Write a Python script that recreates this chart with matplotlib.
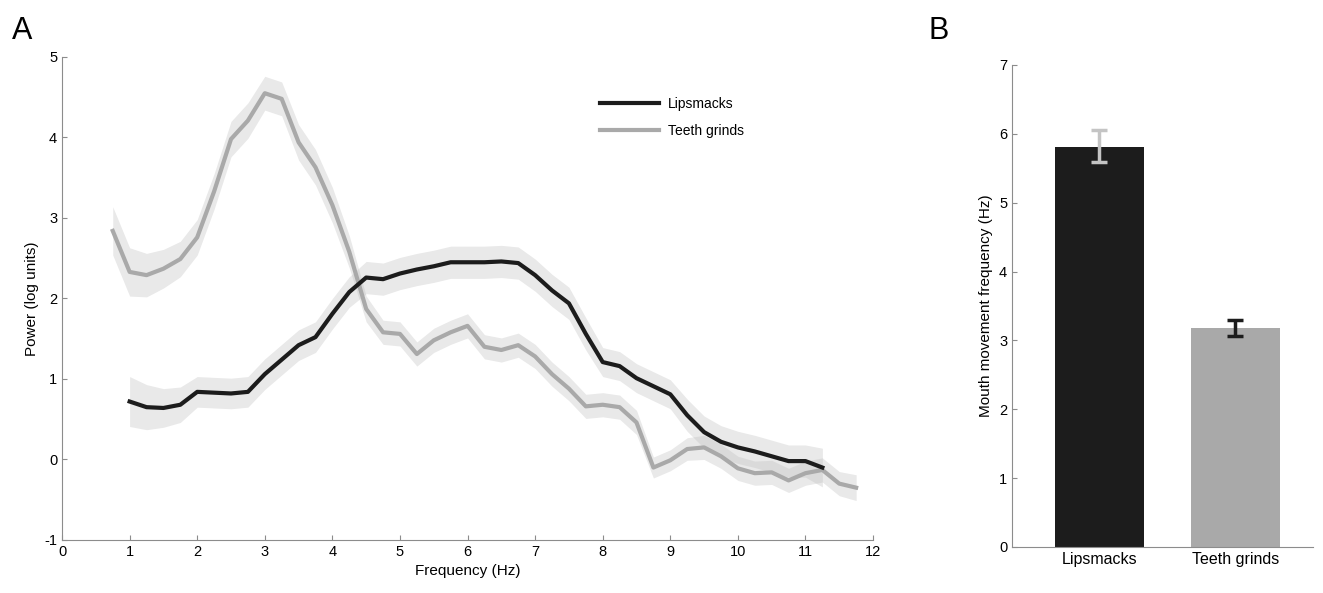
import numpy as np
import matplotlib
matplotlib.use("Agg")
import matplotlib.pyplot as plt

plt.rcParams['font.family'] = ['Liberation Sans', 'DejaVu Sans']
plt.rcParams['axes.unicode_minus'] = False

# panel A: power spectra
freq_lip = np.arange(1.0, 11.26, 0.25)
lip = [0.72, 0.65, 0.64, 0.68, 0.84, 0.83, 0.82, 0.84, 1.06, 1.24, 1.42, 1.52,
       1.81, 2.08, 2.26, 2.24, 2.31, 2.36, 2.40, 2.45, 2.45, 2.45, 2.46, 2.44,
       2.29, 2.10, 1.94, 1.56, 1.21, 1.16, 1.01, 0.91, 0.81, 0.55, 0.34, 0.22,
       0.15, 0.10, 0.04, -0.02, -0.02, -0.10]
lip_sem = [0.31, 0.28, 0.24, 0.22, 0.19, 0.19, 0.19, 0.19, 0.19, 0.19, 0.19, 0.19,
           0.19, 0.19, 0.20, 0.20, 0.20, 0.20, 0.20, 0.20, 0.20, 0.20, 0.20, 0.20,
           0.20, 0.20, 0.20, 0.20, 0.18, 0.18, 0.18, 0.18, 0.18, 0.20, 0.20, 0.20,
           0.20, 0.20, 0.20, 0.20, 0.20, 0.24]

freq_teeth = np.arange(0.75, 11.76, 0.25)
teeth = [2.84, 2.33, 2.29, 2.37, 2.49, 2.76, 3.33, 3.98, 4.21, 4.55, 4.48, 3.94,
         3.63, 3.16, 2.58, 1.87, 1.58, 1.56, 1.31, 1.48, 1.58, 1.66, 1.40, 1.36,
         1.42, 1.28, 1.06, 0.88, 0.66, 0.68, 0.65, 0.46, -0.10, -0.01, 0.13, 0.15,
         0.04, -0.11, -0.17, -0.16, -0.26, -0.17, -0.13, -0.30, -0.35]
teeth_sem = [0.30, 0.30, 0.27, 0.24, 0.22, 0.22, 0.22, 0.22, 0.22, 0.21, 0.21, 0.22,
             0.22, 0.22, 0.20, 0.16, 0.15, 0.15, 0.15, 0.15, 0.15, 0.15, 0.15, 0.15,
             0.15, 0.15, 0.15, 0.15, 0.15, 0.15, 0.15, 0.15, 0.13, 0.13, 0.14, 0.15,
             0.15, 0.15, 0.15, 0.15, 0.15, 0.15, 0.15, 0.15, 0.16]

# panel B: mean mouth movement frequency
conds = ['Lipsmacks', 'Teeth grinds']
mean_freq = [5.81, 3.18]
err_lo = [0.22, 0.11]
err_hi = [0.25, 0.12]

black = '#1c1c1c'
grey = '#a9a9a9'
spine_col = '#8c8c8c'

fig = plt.figure(figsize=(13.23, 5.93), dpi=100)

axA = fig.add_axes([0.0469, 0.0894, 0.613, 0.8145])
lip = np.array(lip); lip_sem = np.array(lip_sem)
teeth = np.array(teeth); teeth_sem = np.array(teeth_sem)
axA.fill_between(freq_teeth, teeth - teeth_sem, teeth + teeth_sem,
                 color='#c0c0c0', alpha=0.35, lw=0)
axA.fill_between(freq_lip, lip - lip_sem, lip + lip_sem,
                 color='#c0c0c0', alpha=0.35, lw=0)
axA.plot(freq_teeth, teeth, color=grey, lw=3, label='Teeth grinds', zorder=3)
axA.plot(freq_lip, lip, color=black, lw=3, label='Lipsmacks', zorder=4)
axA.set_xlim(0, 12)
axA.set_ylim(-1, 5)
axA.set_xticks(range(0, 13))
axA.set_yticks(range(-1, 6))
axA.set_xlabel('Frequency (Hz)', fontsize=11)
axA.set_ylabel('Power (log units)', fontsize=11)
h, l = axA.get_legend_handles_labels()
axA.legend(h[::-1], l[::-1], frameon=False, fontsize=10, loc='upper left',
           bbox_to_anchor=(0.663, 0.917), borderaxespad=0, borderpad=0,
           handlelength=4.3, handletextpad=0.6, labelspacing=0.95)

axB = fig.add_axes([0.765, 0.0776, 0.2275, 0.8128])
pos = [1, 2]
axB.bar(pos, mean_freq, width=0.65, color=[black, grey])
axB.errorbar(pos[0], mean_freq[0], yerr=[[err_lo[0]], [err_hi[0]]], fmt='none',
             ecolor='#c4c4c4', elinewidth=2.5, capsize=6, capthick=2.5)
axB.errorbar(pos[1], mean_freq[1], yerr=[[err_lo[1]], [err_hi[1]]], fmt='none',
             ecolor=black, elinewidth=2.5, capsize=6, capthick=2.5)
axB.set_xlim(0.36, 2.57)
axB.set_ylim(0, 7)
axB.set_yticks(range(0, 8))
axB.set_xticks(pos)
axB.set_xticklabels(conds)
axB.set_ylabel('Mouth movement frequency (Hz)', fontsize=11)

for ax in (axA, axB):
    for s in ('top', 'right'):
        ax.spines[s].set_visible(False)
    for s in ('left', 'bottom'):
        ax.spines[s].set_color(spine_col)
    ax.tick_params(direction='in', color=spine_col, labelsize=10.5)
axB.tick_params(axis='x', length=0, labelsize=11.5)

fig.text(0.009, 0.935, 'A', fontsize=22)
fig.text(0.702, 0.935, 'B', fontsize=22)

fig.savefig('out.png', dpi=100)
